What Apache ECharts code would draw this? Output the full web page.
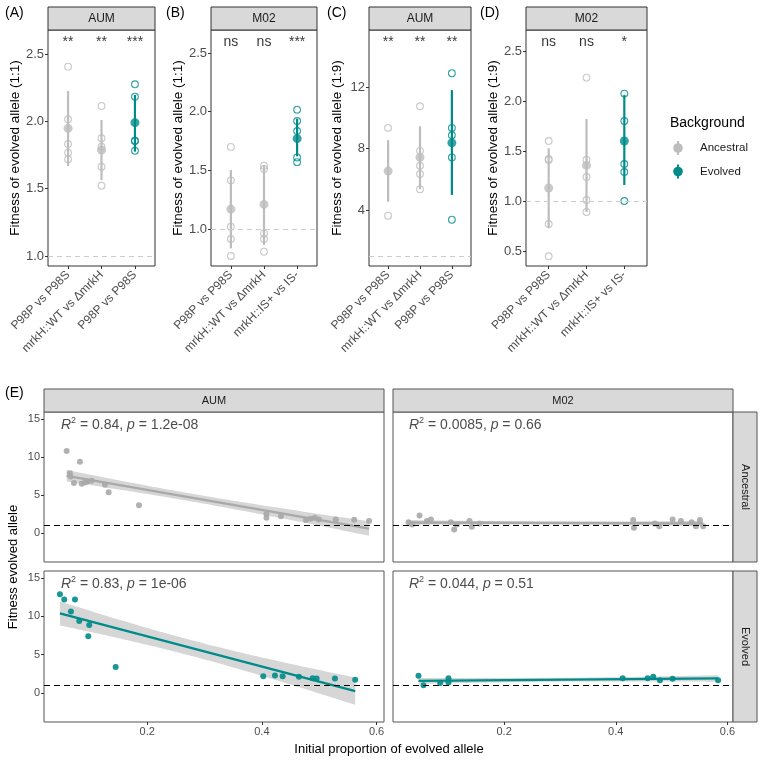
<!DOCTYPE html>
<html><head><meta charset="utf-8">
<script src="https://cdn.jsdelivr.net/npm/echarts@6/dist/echarts.min.js"></script>
<style>html,body{margin:0;padding:0;background:#fff}#c{width:764px;height:764px}</style>
</head><body><div id="c"></div>
<script>
const FONT = '"Liberation Sans", Arial, Helvetica, sans-serif';
const ANC = '#bdbdbd', EVO = '#008b8b', ANC_E = '#a9a9a9';

// ---------- Panels A-D ----------
const catsAUM = ['P98P vs P98S', 'mrkH::WT vs \u0394mrkH', 'P98P vs P98S'];
const catsM02 = ['P98P vs P98S', 'mrkH::WT vs \u0394mrkH', 'mrkH::IS+ vs IS-'];
const bgTop = ['Ancestral', 'Ancestral', 'Evolved'];
const xTicksTop = [1, 2, 3];
const refLine = 1;

const ptsA = [[2.406, 2.015, 1.832, 1.767, 1.718], [2.114, 1.874, 1.812, 1.663, 1.522], [2.275, 2.183, 1.856, 1.854, 1.782]];
const meanA = [1.948, 1.787, 1.99];
const loA = [1.668, 1.564, 1.775];
const hiA = [2.225, 2.01, 2.196];
const sigA = ['**', '**', '***'];
const yTicksA = [1.0, 1.5, 2.0, 2.5];

const ptsB = [[1.70, 1.415, 1.02, 0.915, 0.77], [1.54, 1.511, 0.963, 0.915, 0.807], [2.017, 1.92, 1.835, 1.61, 1.57]];
const meanB = [1.17, 1.21, 1.77];
const loB = [0.835, 0.864, 1.62];
const hiB = [1.503, 1.545, 1.94];
const sigB = ['ns', 'ns', '***'];
const yTicksB = [1.0, 1.5, 2.0, 2.5];

const ptsC = [[9.34, 3.63], [10.75, 7.85, 6.88, 6.34, 5.35], [12.9, 9.34, 8.86, 7.42, 3.37]];
const meanC = [6.53, 7.42, 8.37];
const loC = [4.54, 5.35, 4.98];
const hiC = [8.54, 9.45, 11.8];
const sigC = ['**', '**', '**'];
const yTicksC = [4, 8, 12];

const ptsD = [[1.60, 1.42, 1.41, 0.77, 0.447], [2.234, 1.413, 1.24, 1.01, 0.89], [2.074, 1.80, 1.37, 1.29, 1.0]];
const meanD = [1.13, 1.356, 1.60];
const loD = [0.727, 0.89, 1.16];
const hiD = [1.527, 1.82, 2.06];
const sigD = ['ns', 'ns', '*'];
const yTicksD = [0.5, 1.0, 1.5, 2.0, 2.5];

// ---------- Panel E ----------
const aumAncX = [0.0595, 0.0652, 0.0665, 0.0722, 0.0827, 0.0857, 0.0914, 0.0955, 0.1031, 0.1263, 0.1327, 0.1856, 0.408, 0.408, 0.4332, 0.4768, 0.485, 0.4925, 0.4995, 0.529, 0.561, 0.587];
const aumAncY = [10.78, 7.87, 7.43, 6.57, 9.35, 6.48, 6.65, 6.78, 6.87, 6.35, 5.35, 3.65, 2.52, 2.0, 2.2, 1.7, 1.87, 2.0, 1.78, 1.78, 1.74, 1.57];
const m02AncX = [0.0288, 0.0349, 0.0485, 0.0617, 0.0689, 0.1047, 0.1106, 0.1154, 0.138, 0.1422, 0.156, 0.4313, 0.4326, 0.4702, 0.4779, 0.5018, 0.5167, 0.5358, 0.5435, 0.5507, 0.5566];
const m02AncY = [1.43, 1.13, 2.3, 1.57, 1.78, 1.43, 0.48, 1.13, 1.57, 0.83, 1.26, 1.7, 0.7, 1.26, 0.91, 1.78, 1.57, 1.43, 0.91, 1.7, 0.91];
const aumEvoX = [0.0478, 0.0553, 0.074, 0.067, 0.0815, 0.0989, 0.0972, 0.145, 0.4024, 0.4228, 0.4362, 0.4646, 0.4885, 0.4955, 0.5274, 0.5628];
const aumEvoY = [12.87, 12.17, 12.17, 10.6, 9.39, 8.87, 7.39, 3.39, 2.17, 2.26, 2.17, 2.09, 1.91, 1.87, 1.87, 1.7];
const m02EvoX = [0.0467, 0.0556, 0.0855, 0.1004, 0.1004, 0.4124, 0.4571, 0.4671, 0.4791, 0.5018, 0.5834];
const m02EvoY = [2.22, 1.0, 1.3, 1.91, 1.35, 1.91, 1.91, 2.09, 1.65, 1.83, 1.65];
const eXTicks = [0.2, 0.4, 0.6];
const eYTicks = [0, 5, 10, 15];
const eR2 = ['0.84', '0.0085', '0.83', '0.044'];
const eP = ['1.2e-08', '0.66', '1e-06', '0.51'];
const eCols = ['AUM', 'M02'];
const eRows = ['Ancestral', 'Evolved'];

// ---------- helpers ----------
function linfit(xs, ys) {
  const n = xs.length;
  const mx = xs.reduce((a, b) => a + b, 0) / n, my = ys.reduce((a, b) => a + b, 0) / n;
  let sxx = 0, sxy = 0;
  for (let i = 0; i < n; i++) { sxx += (xs[i] - mx) ** 2; sxy += (xs[i] - mx) * (ys[i] - my); }
  const b = sxy / sxx, a = my - b * mx;
  let sse = 0;
  for (let i = 0; i < n; i++) sse += (ys[i] - a - b * xs[i]) ** 2;
  return { a, b, mx, sxx, s: Math.sqrt(sse / (n - 2)), n };
}
function tq(df) {
  const z = 1.959964;
  return z + (z ** 3 + z) / (4 * df) + (5 * z ** 5 + 16 * z ** 3 + 3 * z) / (96 * df * df)
    + (3 * z ** 7 + 19 * z ** 5 + 17 * z ** 3 - 15 * z) / (384 * df ** 3);
}
function band(xs, ys) {
  const f = linfit(xs, ys);
  const t = tq(f.n - 2);
  const x0 = Math.min(...xs), x1 = Math.max(...xs);
  const up = [], lo = [];
  for (let i = 0; i <= 60; i++) {
    const x = x0 + (x1 - x0) * i / 60;
    const yh = f.a + f.b * x;
    const se = f.s * Math.sqrt(1 / f.n + (x - f.mx) ** 2 / f.sxx);
    up.push([x, yh + t * se]); lo.push([x, yh - t * se]);
  }
  return { line: [[x0, f.a + f.b * x0], [x1, f.a + f.b * x1]], up, lo };
}

const topPanels = [
  { label: '(A)', strip: 'AUM', title: 'Fitness of evolved allele (1:1)', cats: catsAUM, pts: ptsA, mean: meanA, lo: loA, hi: hiA, sig: sigA, yt: yTicksA, dec: 1, left: 48, width: 107, ymin: 0.926, ymax: 2.678, sigY: 2.59 },
  { label: '(B)', strip: 'M02', title: 'Fitness of evolved allele (1:1)', cats: catsM02, pts: ptsB, mean: meanB, lo: loB, hi: hiB, sig: sigB, yt: yTicksB, dec: 1, left: 211, width: 106, ymin: 0.685, ymax: 2.696, sigY: 2.594 },
  { label: '(C)', strip: 'AUM', title: 'Fitness of evolved allele (1:9)', cats: catsAUM, pts: ptsC, mean: meanC, lo: loC, hi: hiC, sig: sigC, yt: yTicksC, dec: 0, left: 369, width: 102, ymin: 0.358, ymax: 15.71, sigY: 14.93 },
  { label: '(D)', strip: 'M02', title: 'Fitness of evolved allele (1:9)', cats: catsM02, pts: ptsD, mean: meanD, lo: loD, hi: hiD, sig: sigD, yt: yTicksD, dec: 1, left: 526, width: 121, ymin: 0.35, ymax: 2.71, sigY: 2.59 }
];
const TOP_T = 30, TOP_H = 236;
const colOf = b => b === 'Evolved' ? EVO : ANC;

const grid = [], xAxis = [], yAxis = [], series = [], graphic = [];
const labelStyle = { color: '#4d4d4d', fontSize: 11, fontFamily: FONT };

topPanels.forEach((p, i) => {
  grid.push({ left: p.left, top: TOP_T, width: p.width, height: TOP_H, show: true, borderColor: '#333', borderWidth: 1, backgroundColor: '#fff' });
  xAxis.push({
    type: 'value', gridIndex: i, min: 0.4, max: 3.6,
    axisLine: { show: false, onZero: false }, splitLine: { show: false },
    axisTick: { show: true, customValues: xTicksTop, length: 3, lineStyle: { color: '#333' } },
    axisLabel: Object.assign({}, labelStyle, { customValues: xTicksTop, rotate: 45, margin: 7, fontSize: 12, formatter: v => p.cats[Math.round(v) - 1] })
  });
  yAxis.push({
    type: 'value', gridIndex: i, min: p.ymin, max: p.ymax,
    axisLine: { show: false, onZero: false }, splitLine: { show: false },
    axisTick: { show: true, customValues: p.yt, length: 3, lineStyle: { color: '#333' } },
    axisLabel: Object.assign({}, labelStyle, { customValues: p.yt, margin: 4, fontSize: 13, formatter: v => v.toFixed(p.dec) }),
    name: p.title, nameLocation: 'middle', nameRotate: 90, nameGap: 25,
    nameTextStyle: { fontSize: 13.5, color: '#000', fontFamily: FONT }
  });
  series.push({
    type: 'scatter', name: p.strip + ' points', xAxisIndex: i, yAxisIndex: i, symbolSize: 6.8, silent: true, z: 3,
    data: p.pts.flatMap((arr, k) => arr.map(v => ({ value: [k + 1, v], itemStyle: { borderColor: colOf(bgTop[k]) } }))),
    itemStyle: { color: 'rgba(255,255,255,0)', borderWidth: 1.1 },
    markLine: { silent: true, symbol: 'none', label: { show: false }, lineStyle: { color: '#cccccc', type: [5, 4], width: 1 }, data: [{ yAxis: refLine }] }
  });
  series.push({
    type: 'custom', name: p.strip + ' sd', xAxisIndex: i, yAxisIndex: i, silent: true, z: 4,
    data: p.mean.map((m, k) => [k + 1, p.lo[k], p.hi[k]]),
    encode: { x: 0, y: [1, 2] },
    renderItem: (params, api) => {
      const x = api.value(0);
      const a = api.coord([x, api.value(1)]), b = api.coord([x, api.value(2)]);
      return { type: 'line', shape: { x1: a[0], y1: a[1], x2: b[0], y2: b[1] }, style: { stroke: colOf(bgTop[params.dataIndex]), lineWidth: 2.2 } };
    }
  });
  series.push({
    type: 'scatter', name: p.strip + ' mean', xAxisIndex: i, yAxisIndex: i, symbolSize: 9, silent: true, z: 5,
    data: p.mean.map((m, k) => ({ value: [k + 1, m], itemStyle: { color: colOf(bgTop[k]) } }))
  });
  series.push({
    type: 'scatter', name: p.strip + ' sig', xAxisIndex: i, yAxisIndex: i, symbolSize: 1, silent: true, z: 6,
    itemStyle: { color: 'rgba(0,0,0,0)' },
    data: p.sig.map((s, k) => ({ value: [k + 1, p.sigY], name: s })),
    label: { show: true, position: 'inside', formatter: '{b}', fontSize: 14, color: '#000', fontFamily: FONT }
  });
  graphic.push({ type: 'rect', shape: { x: p.left, y: 7, width: p.width, height: TOP_T - 7 }, style: { fill: '#d9d9d9', stroke: '#333', lineWidth: 1 } });
  graphic.push({ type: 'text', x: p.left + p.width / 2, y: 18.5, style: { text: p.strip, fontSize: 12, fill: '#1a1a1a', fontFamily: FONT, align: 'center', verticalAlign: 'middle' } });
  graphic.push({ type: 'text', x: [5, 166, 327, 480][i], y: 13, style: { text: p.label, fontSize: 14, fill: '#000', fontFamily: FONT, align: 'left', verticalAlign: 'middle' } });
});

// ---------- Panel E ----------
const eFacets = [
  { xs: aumAncX, ys: aumAncY, col: 0, row: 0, color: ANC_E },
  { xs: m02AncX, ys: m02AncY, col: 1, row: 0, color: ANC_E },
  { xs: aumEvoX, ys: aumEvoY, col: 0, row: 1, color: EVO },
  { xs: m02EvoX, ys: m02EvoY, col: 1, row: 1, color: EVO }
];
const eLeft = [44, 393], eW = 340, eTop = [412, 571], eH = [150, 151];
const eXmin = [0.02, 0.001], eXmax = [0.613, 0.61];
const eYmin = -3.8, eYmax = 15.9;

eFacets.forEach((f, j) => {
  const gi = 4 + j;
  const bottom = f.row === 1, leftCol = f.col === 0;
  grid.push({ left: eLeft[f.col], top: eTop[f.row], width: eW, height: eH[f.row], show: true, borderColor: '#555', borderWidth: 1, backgroundColor: '#fff' });
  xAxis.push({
    type: 'value', gridIndex: gi, min: eXmin[f.col], max: eXmax[f.col],
    axisLine: { show: false, onZero: false }, splitLine: { show: false },
    axisTick: { show: bottom, customValues: eXTicks, length: 3, lineStyle: { color: '#333' } },
    axisLabel: Object.assign({}, labelStyle, { show: bottom, customValues: eXTicks, margin: 4, formatter: v => v.toFixed(1) })
  });
  yAxis.push({
    type: 'value', gridIndex: gi, min: eYmin, max: eYmax,
    axisLine: { show: false, onZero: false }, splitLine: { show: false },
    axisTick: { show: leftCol, customValues: eYTicks, length: 3, lineStyle: { color: '#333' } },
    axisLabel: Object.assign({}, labelStyle, { show: leftCol, customValues: eYTicks, margin: 4, formatter: v => String(v) })
  });
  const bd = band(f.xs, f.ys);
  series.push({
    type: 'custom', name: 'band ' + j, xAxisIndex: gi, yAxisIndex: gi, silent: true, z: 2, data: [0],
    renderItem: (params, api) => {
      const pts = bd.up.map(p => api.coord(p)).concat(bd.lo.slice().reverse().map(p => api.coord(p)));
      return { type: 'polygon', shape: { points: pts }, style: { fill: 'rgba(153,153,153,0.4)' } };
    }
  });
  series.push({
    type: 'line', name: 'fit ' + j, xAxisIndex: gi, yAxisIndex: gi, silent: true, z: 3, showSymbol: false,
    data: bd.line, lineStyle: { color: f.color, width: 2.3 }
  });
  series.push({
    type: 'scatter', name: eCols[f.col] + ' ' + eRows[f.row], xAxisIndex: gi, yAxisIndex: gi, silent: true, z: 4,
    symbolSize: 6, itemStyle: { color: f.color, opacity: 0.9 },
    data: f.xs.map((x, k) => [x, f.ys[k]]),
    markLine: { silent: true, symbol: 'none', label: { show: false }, lineStyle: { color: '#000', type: [6, 4], width: 1.2 }, data: [{ yAxis: refLine }] }
  });
  graphic.push({
    type: 'text', x: eLeft[f.col] + (f.col === 0 ? 17 : 16), y: eTop[f.row] + 13,
    style: {
      text: '{i|R}{s|2}{n| = ' + eR2[j] + ', }{i|p}{n| = ' + eP[j] + '}',
      fill: '#4d4d4d', fontFamily: FONT, align: 'left', verticalAlign: 'middle',
      rich: {
        i: { fontStyle: 'italic', fontSize: 14, fill: '#4d4d4d', fontFamily: FONT, lineHeight: 18 },
        n: { fontSize: 14, fill: '#4d4d4d', fontFamily: FONT, lineHeight: 18 },
        s: { fontSize: 9, fill: '#4d4d4d', fontFamily: FONT, lineHeight: 10, verticalAlign: 'top' }
      }
    }
  });
});
// strips for E
eCols.forEach((c, k) => {
  graphic.push({ type: 'rect', shape: { x: eLeft[k], y: 389, width: eW, height: 23 }, style: { fill: '#d9d9d9', stroke: '#555', lineWidth: 1 } });
  graphic.push({ type: 'text', x: eLeft[k] + eW / 2, y: 400.5, style: { text: c, fontSize: 11, fill: '#1a1a1a', fontFamily: FONT, align: 'center', verticalAlign: 'middle' } });
});
eRows.forEach((r, k) => {
  graphic.push({ type: 'rect', shape: { x: 733, y: eTop[k], width: 24, height: eH[k] }, style: { fill: '#d9d9d9', stroke: '#555', lineWidth: 1 } });
  graphic.push({ type: 'text', x: 745, y: eTop[k] + eH[k] / 2, rotation: -Math.PI / 2, style: { text: r, fontSize: 11, fill: '#1a1a1a', fontFamily: FONT, align: 'center', verticalAlign: 'middle' } });
});
graphic.push({ type: 'text', x: 5, y: 393, style: { text: '(E)', fontSize: 14, fill: '#000', fontFamily: FONT, align: 'left', verticalAlign: 'middle' } });
graphic.push({ type: 'text', x: 13, y: 567, rotation: Math.PI / 2, style: { text: 'Fitness evolved allele', fontSize: 13, fill: '#000', fontFamily: FONT, align: 'center', verticalAlign: 'middle' } });
graphic.push({ type: 'text', x: 389, y: 749, style: { text: 'Initial proportion of evolved allele', fontSize: 13, fill: '#000', fontFamily: FONT, align: 'center', verticalAlign: 'middle' } });

// legend
const legendItems = ['Ancestral', 'Evolved'];
graphic.push({ type: 'text', x: 670, y: 123, style: { text: 'Background', fontSize: 14, fill: '#000', fontFamily: FONT, align: 'left', verticalAlign: 'middle' } });
legendItems.forEach((name, k) => {
  const cy = 148 + k * 23.5, c = colOf(name);
  graphic.push({ type: 'line', shape: { x1: 678, y1: cy - 7, x2: 678, y2: cy + 7 }, style: { stroke: c, lineWidth: 2 } });
  graphic.push({ type: 'circle', shape: { cx: 678, cy: cy, r: 4.8 }, style: { fill: c } });
  graphic.push({ type: 'text', x: 700, y: cy, style: { text: name, fontSize: 11.5, fill: '#1a1a1a', fontFamily: FONT, align: 'left', verticalAlign: 'middle' } });
});

const chart = echarts.init(document.getElementById('c'), null, { renderer: 'canvas' });
chart.setOption({
  backgroundColor: '#fff', animation: false,
  textStyle: { fontFamily: FONT },
  grid, xAxis, yAxis, series, graphic
});
</script></body></html>
